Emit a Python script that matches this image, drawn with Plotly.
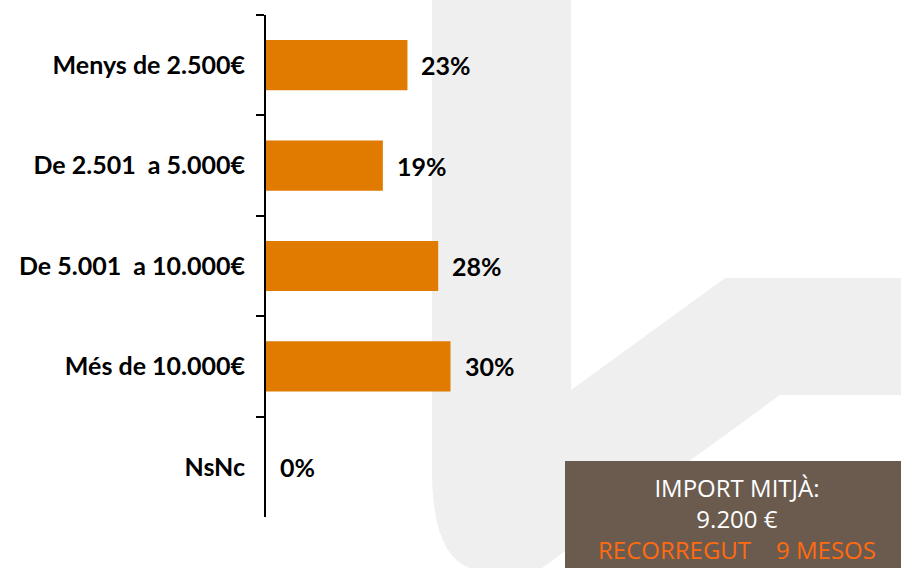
import plotly.graph_objects as go

categories = ["Menys de 2.500€", "De 2.501  a 5.000€", "De 5.001  a 10.000€", "Més de 10.000€", "NsNc"]
values = [23, 19, 28, 30, 0]
labels = ["23%", "19%", "28%", "30%", "0%"]

box_title = "IMPORT MITJÀ:"
box_value = "9.200 €"
box_note = "RECORREGUT    9 MESOS"

W, H = 901, 568
def px(x): return x / W
def py(y): return 1 - y / H

LABEL_FONT = dict(family="Lato", size=25, color="black", weight="bold")

fig = go.Figure()
fig.add_trace(go.Bar(
    x=values, y=categories, orientation="h", width=0.5,
    marker=dict(color="#E07B00", line=dict(width=0)),
    hoverinfo="skip", showlegend=False,
))

for v, c, t in zip(values, categories, labels):
    fig.add_annotation(x=v, y=c, text=t, showarrow=False, xanchor="left", xshift=12,
                       font=LABEL_FONT)

# background watermark shape (light gray)
path = (f"M {px(432)} {py(0)} L {px(571)} {py(0)} L {px(571)} {py(390)} L {px(725)} {py(278)} "
        f"L {px(901)} {py(278)} L {px(901)} {py(395)} L {px(780)} {py(395)} L {px(542)} {py(568)} "
        f"L {px(470)} {py(568)} Q {px(432)} {py(555)} {px(432)} {py(470)} Z")
fig.add_shape(type="path", path=path, xref="paper", yref="paper",
              fillcolor="#EFEFEF", line=dict(width=0), layer="below")

# info box
fig.add_shape(type="rect", xref="paper", yref="paper", x0=px(565), x1=px(901), y0=py(568), y1=py(461),
              fillcolor="#6B5B4E", line=dict(width=0), layer="above")
fig.add_annotation(
    x=px(737), y=py(518), xref="paper", yref="paper", showarrow=False,
    xanchor="center", yanchor="middle", align="center",
    text=f"{box_title}<br>{box_value}<br><span style='color:#FF6A10'>{box_note}</span>",
    font=dict(family="Open Sans", size=24, color="white"),
)

fig.update_layout(
    width=W, height=H, margin=dict(l=0, r=0, t=0, b=0),
    paper_bgcolor="white", plot_bgcolor="rgba(0,0,0,0)",
    xaxis=dict(domain=[px(266), 1], range=[0, 635 / 6.15], visible=False, fixedrange=True),
    yaxis=dict(domain=[py(517), py(15)], autorange="reversed", showline=True, linecolor="black",
               linewidth=2, ticks="outside", ticklen=8, tickwidth=2, tickcolor="black",
               tickson="boundaries", showgrid=False, ticklabelstandoff=14, fixedrange=True,
               tickfont=LABEL_FONT),
)

fig.write_html("out.html", config={"displayModeBar": False},
               post_script="document.body.style.margin='0';document.body.style.overflow='hidden';")
